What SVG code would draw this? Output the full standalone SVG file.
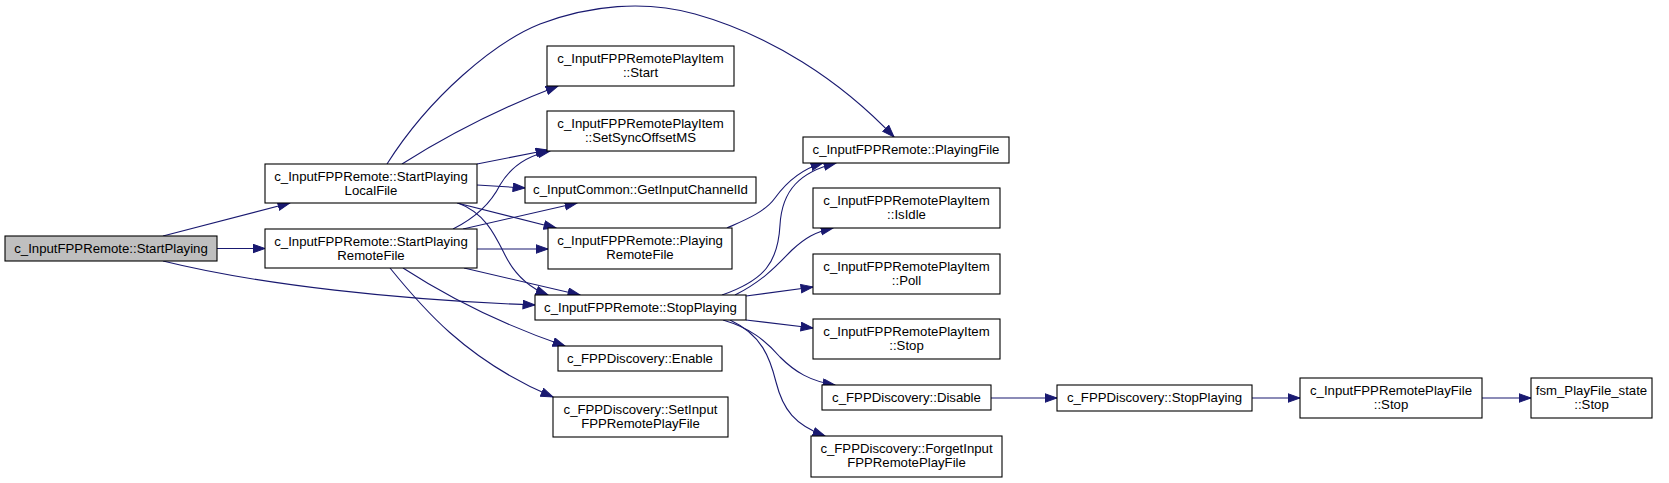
<svg xmlns="http://www.w3.org/2000/svg" width="1669" height="483" viewBox="0 0 1669 483">
<style>
.node rect{fill:#ffffff;stroke:#000000;stroke-width:1.1}
.node.root rect{fill:#bfbfbf}
.node text{font-family:"Liberation Sans",Arial,sans-serif;font-size:13.2px;fill:#000000;text-anchor:middle}
.edges path{fill:none;stroke:#191970;stroke-width:1.1;marker-end:url(#ah)}
</style>
<defs>
<marker id="ah" markerWidth="14" markerHeight="10" refX="12.5" refY="4.75" orient="auto" markerUnits="userSpaceOnUse">
<path d="M0.5,0.5 L12.5,4.75 L0.5,9 z" fill="#191970" stroke="#191970" stroke-width="1"/>
</marker>
</defs>
<rect x="0" y="0" width="1669" height="483" fill="#ffffff"/>
<g id="edges" class="edges">
<path d="M163,236 L290,203"/>
<path d="M217,248.5 L265,248.5"/>
<path d="M163,261 C260,285 400,300 535,305"/>
<path d="M387,164 C430,96 495,42 540,24 C590,5 645,0 695,14 C770,35 840,80 894,137"/>
<path d="M402,164 C440,140 490,112 558,86"/>
<path d="M477,164 L548,150"/>
<path d="M477,185 L525,188"/>
<path d="M457,203 L556,228"/>
<path d="M458,203 C485,213 495,235 505,255 C515,275 530,288 548,295"/>
<path d="M453,229 C475,218 490,205 500,185 C510,168 525,156 550,151"/>
<path d="M463,229 L577,203"/>
<path d="M477,249 L548,249"/>
<path d="M464,268 L580,295"/>
<path d="M403,268 C440,292 495,322 565,346"/>
<path d="M390,268 C420,305 465,360 553,397"/>
<path d="M727,228 C745,220 765,212 775,198 C788,180 805,168 823,163"/>
<path d="M722,295 C765,280 778,262 780,225 C782,190 800,172 836,163"/>
<path d="M735,295 C765,280 780,262 792,250 C805,238 815,232 833,228"/>
<path d="M746,296 L813,287"/>
<path d="M746,320 L813,328"/>
<path d="M723,320 C750,328 765,340 780,357 C795,372 810,381 835,385"/>
<path d="M730,320 C762,335 770,358 776,382 C783,410 795,425 825,436"/>
<path d="M991,398 L1057,398"/>
<path d="M1252,398 L1300,398"/>
<path d="M1482,398 L1531,398"/>
</g>
<g id="n0" class="node root"><rect x="5" y="236" width="212" height="25"/><text x="111" y="252.5">c_InputFPPRemote::StartPlaying</text></g>
<g id="n1" class="node"><rect x="265" y="164" width="212" height="39"/><text x="371" y="180.5">c_InputFPPRemote::StartPlaying</text><text x="371" y="194.5">LocalFile</text></g>
<g id="n2" class="node"><rect x="265" y="229" width="212" height="39"/><text x="371" y="245.5">c_InputFPPRemote::StartPlaying</text><text x="371" y="259.5">RemoteFile</text></g>
<g id="n3" class="node"><rect x="547" y="46" width="187" height="40"/><text x="640.5" y="62.5">c_InputFPPRemotePlayItem</text><text x="640.5" y="76.5">::Start</text></g>
<g id="n4" class="node"><rect x="547" y="111" width="187" height="40"/><text x="640.5" y="127.5">c_InputFPPRemotePlayItem</text><text x="640.5" y="141.5">::SetSyncOffsetMS</text></g>
<g id="n5" class="node"><rect x="525" y="177" width="231" height="26"/><text x="640.5" y="194">c_InputCommon::GetInputChannelId</text></g>
<g id="n6" class="node"><rect x="548" y="228" width="184" height="41"/><text x="640" y="245">c_InputFPPRemote::Playing</text><text x="640" y="259">RemoteFile</text></g>
<g id="n7" class="node"><rect x="535" y="295" width="211" height="25"/><text x="640.5" y="311.5">c_InputFPPRemote::StopPlaying</text></g>
<g id="n8" class="node"><rect x="558" y="346" width="164" height="25"/><text x="640" y="362.5">c_FPPDiscovery::Enable</text></g>
<g id="n9" class="node"><rect x="553" y="397" width="175" height="40"/><text x="640.5" y="413.5">c_FPPDiscovery::SetInput</text><text x="640.5" y="427.5">FPPRemotePlayFile</text></g>
<g id="n10" class="node"><rect x="803" y="137" width="206" height="26"/><text x="906" y="154">c_InputFPPRemote::PlayingFile</text></g>
<g id="n11" class="node"><rect x="813" y="188" width="187" height="40"/><text x="906.5" y="204.5">c_InputFPPRemotePlayItem</text><text x="906.5" y="218.5">::IsIdle</text></g>
<g id="n12" class="node"><rect x="813" y="254" width="187" height="40"/><text x="906.5" y="270.5">c_InputFPPRemotePlayItem</text><text x="906.5" y="284.5">::Poll</text></g>
<g id="n13" class="node"><rect x="813" y="319" width="187" height="40"/><text x="906.5" y="335.5">c_InputFPPRemotePlayItem</text><text x="906.5" y="349.5">::Stop</text></g>
<g id="n14" class="node"><rect x="822" y="385" width="169" height="25"/><text x="906.5" y="401.5">c_FPPDiscovery::Disable</text></g>
<g id="n15" class="node"><rect x="811" y="436" width="191" height="41"/><text x="906.5" y="453">c_FPPDiscovery::ForgetInput</text><text x="906.5" y="467">FPPRemotePlayFile</text></g>
<g id="n16" class="node"><rect x="1057" y="385" width="195" height="26"/><text x="1154.5" y="402">c_FPPDiscovery::StopPlaying</text></g>
<g id="n17" class="node"><rect x="1300" y="378" width="182" height="40"/><text x="1391" y="394.5">c_InputFPPRemotePlayFile</text><text x="1391" y="408.5">::Stop</text></g>
<g id="n18" class="node"><rect x="1531" y="378" width="121" height="40"/><text x="1591.5" y="394.5">fsm_PlayFile_state</text><text x="1591.5" y="408.5">::Stop</text></g>
</svg>
